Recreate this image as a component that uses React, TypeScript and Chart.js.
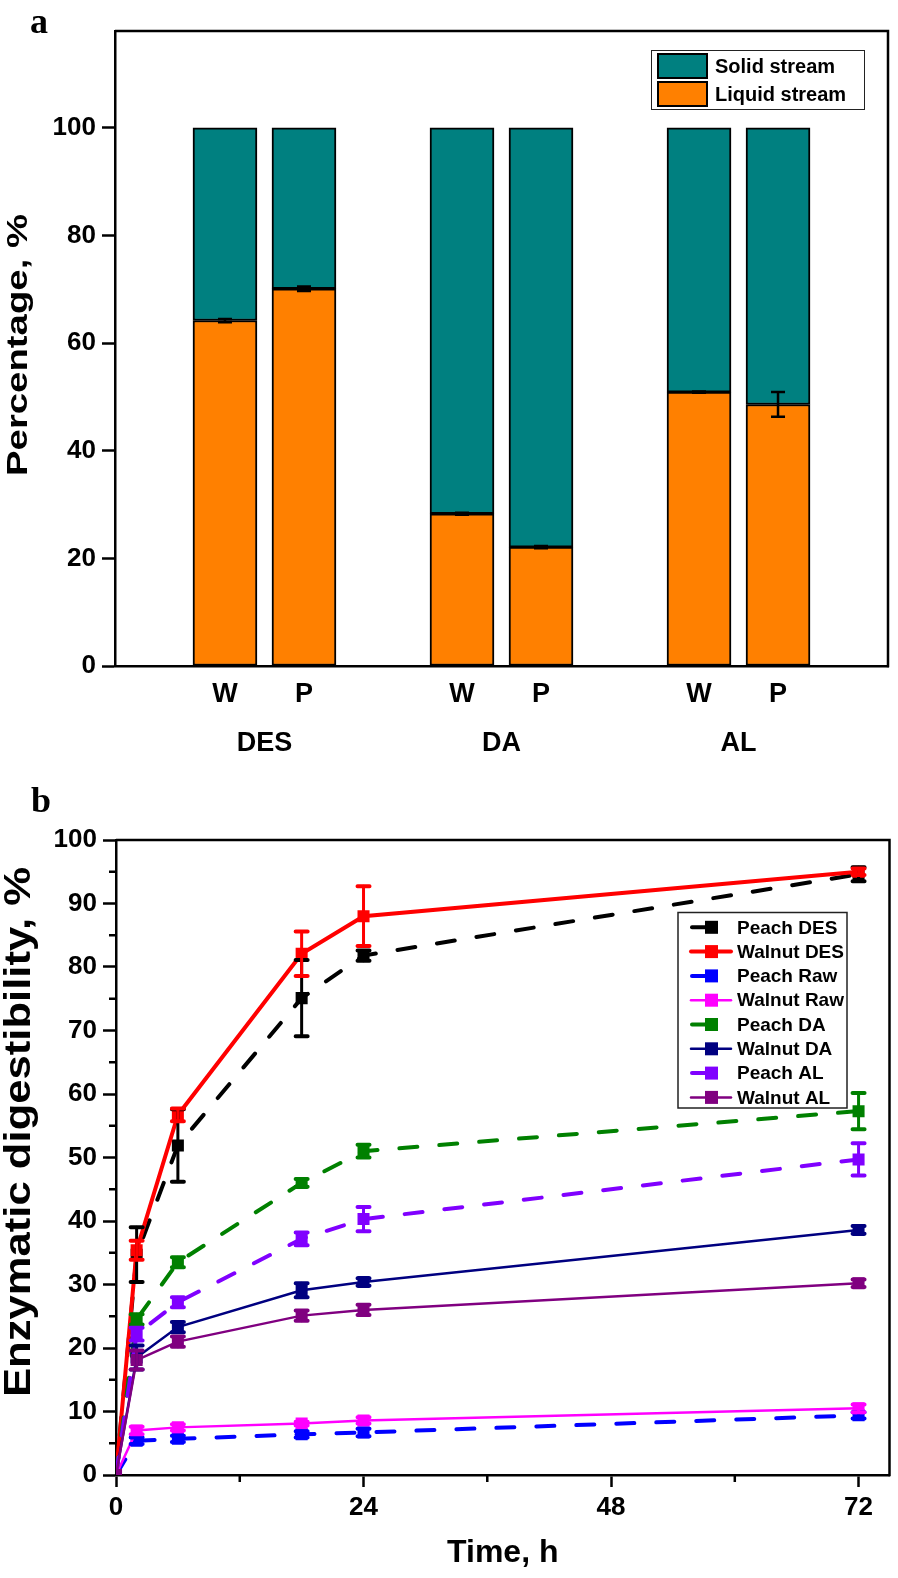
import React, { useEffect, useRef } from 'react';
import { Chart, registerables } from 'chart.js';

Chart.register(...registerables);

const SANS = "'Liberation Sans', Arial, Helvetica, sans-serif";
const SERIF = "'Liberation Serif', 'Times New Roman', serif";

// ---------------- Panel a data ----------------
const pretreatments = ['DES', 'DA', 'AL'];
const feedstocks = ['W', 'P'];
const liquidStream = [64.2, 70.1, 28.3, 22.1, 50.9, 48.6];
const solidStream = [35.8, 29.9, 71.7, 77.9, 49.1, 51.4];
const liquidError = [0.3, 0.4, 0.2, 0.2, 0.1, 2.3];
const percentTicks = [0, 20, 40, 60, 80, 100];

// ---------------- Panel b data ----------------
const hours = [0, 2, 6, 18, 24, 72];
const hourTicks = [0, 24, 48, 72];
const seriesNames = ['Peach DES', 'Walnut DES', 'Peach Raw', 'Walnut Raw', 'Peach DA', 'Walnut DA', 'Peach AL', 'Walnut AL'];
const peachDES = [0, 34.7, 51.9, 75.1, 81.8, 94.6];
const walnutDES = [0, 35.4, 56.7, 82.1, 88.0, 95.0];
const peachRaw = [0, 5.4, 5.7, 6.4, 6.7, 9.4];
const walnutRaw = [0, 7.0, 7.5, 8.1, 8.6, 10.5];
const peachDA = [0, 24.5, 33.5, 46.0, 51.0, 57.3];
const walnutDA = [0, 18.5, 23.3, 29.1, 30.4, 38.6];
const peachAL = [0, 22.2, 27.2, 37.2, 40.3, 49.7];
const walnutAL = [0, 18.1, 21.0, 25.1, 26.0, 30.2];
const peachDESErr = [0, 4.3, 5.7, 6.0, 0.8, 1.1];
const walnutDESErr = [0, 1.5, 1.0, 3.5, 4.7, 0.5];
const peachRawErr = [0, 0.5, 0.5, 0.5, 0.6, 0.5];
const walnutRawErr = [0, 0.6, 0.5, 0.3, 0.5, 0.6];
const peachDAErr = [0, 0.8, 0.8, 0.6, 1.0, 2.85];
const walnutDAErr = [0, 1.9, 0.8, 1.1, 0.6, 0.6];
const peachALErr = [0, 1.0, 0.8, 1.0, 1.9, 2.55];
const walnutALErr = [0, 1.5, 0.8, 0.8, 0.8, 0.6];

const seriesValues = [peachDES, walnutDES, peachRaw, walnutRaw, peachDA, walnutDA, peachAL, walnutAL];
const seriesErrors = [peachDESErr, walnutDESErr, peachRawErr, walnutRawErr, peachDAErr, walnutDAErr, peachALErr, walnutALErr];
const seriesColors = ['#000000', '#FF0000', '#0000FF', '#FF00FF', '#008000', '#000080', '#8000FF', '#800080'];
const seriesDashed = [true, false, true, false, true, false, true, false];
const seriesWidths = [4, 4, 4, 2.5, 4, 2.5, 4, 2.5];

const TEAL = '#008080';
const ORANGE = '#FF8000';

function slotOf(i: number) {
  const k = feedstocks.length;
  return Math.floor(i / k) * (k + 1) + (i % k) + 1;
}
function groupCenter(g: number) {
  const k = feedstocks.length;
  return g * (k + 1) + (k + 1) / 2;
}

function drawVerticalTitle(ctx: CanvasRenderingContext2D, text: string, cx: number, cy: number, px: number, length: number) {
  ctx.save();
  ctx.font = `bold ${px}px ${SANS}`;
  const w = ctx.measureText(text).width;
  ctx.translate(cx, cy);
  ctx.rotate(-Math.PI / 2);
  ctx.scale(length / w, 1);
  ctx.textAlign = 'center';
  ctx.textBaseline = 'middle';
  ctx.fillStyle = '#000';
  ctx.fillText(text, 0, 0);
  ctx.restore();
}

const framePlugin = {
  id: 'frame',
  afterDraw(chart: any) {
    const { ctx, chartArea: c } = chart;
    ctx.save();
    ctx.strokeStyle = '#000';
    ctx.lineWidth = 2.5;
    ctx.beginPath();
    ctx.moveTo(c.left, c.top);
    ctx.lineTo(c.right, c.top);
    ctx.lineTo(c.right, c.bottom + 1.25);
    ctx.stroke();
    ctx.restore();
  },
};

function makeChartA(canvas: HTMLCanvasElement) {
  const extras = {
    id: 'extrasA',
    afterDatasetsDraw(chart: any) {
      const { ctx } = chart;
      const xs = chart.scales.x;
      const ys = chart.scales.y;
      ctx.save();
      ctx.strokeStyle = '#000';
      ctx.lineWidth = 2.5;
      liquidStream.forEach((v, i) => {
        const e = liquidError[i];
        const x = xs.getPixelForValue(slotOf(i));
        const y1 = ys.getPixelForValue(v + e);
        const y2 = ys.getPixelForValue(v - e);
        ctx.beginPath();
        ctx.moveTo(x, y1);
        ctx.lineTo(x, y2);
        ctx.moveTo(x - 7, y1);
        ctx.lineTo(x + 7, y1);
        ctx.moveTo(x - 7, y2);
        ctx.lineTo(x + 7, y2);
        ctx.stroke();
      });
      ctx.restore();
    },
    afterDraw(chart: any) {
      const { ctx } = chart;
      ctx.save();
      // legend
      ctx.strokeStyle = '#222';
      ctx.lineWidth = 1;
      ctx.strokeRect(651.5, 50.5, 213, 59);
      const rows = [
        { label: 'Solid stream', color: TEAL, y: 66 },
        { label: 'Liquid stream', color: ORANGE, y: 94 },
      ];
      rows.forEach((r) => {
        ctx.fillStyle = r.color;
        ctx.fillRect(658, r.y - 12, 49, 24);
        ctx.strokeStyle = '#000';
        ctx.lineWidth = 2;
        ctx.strokeRect(658, r.y - 12, 49, 24);
        ctx.fillStyle = '#000';
        ctx.font = `bold 20px ${SANS}`;
        ctx.textAlign = 'left';
        ctx.textBaseline = 'middle';
        ctx.fillText(r.label, 715, r.y + 1);
      });
      // panel letter
      ctx.font = `bold 36px ${SERIF}`;
      ctx.textAlign = 'left';
      ctx.textBaseline = 'alphabetic';
      ctx.fillText('a', 30, 33);
      ctx.restore();
      drawVerticalTitle(ctx, 'Percentage, %', 19, 345, 29, 262);
    },
  };

  return new Chart(canvas, {
    type: 'bar',
    data: {
      datasets: [
        {
          label: 'Liquid stream',
          data: liquidStream.map((v, i) => ({ x: slotOf(i), y: v })),
          backgroundColor: ORANGE,
          borderColor: '#000',
          borderWidth: 2,
          borderSkipped: false,
          barThickness: 64,
        },
        {
          label: 'Solid stream',
          data: solidStream.map((v, i) => ({ x: slotOf(i), y: v })),
          backgroundColor: TEAL,
          borderColor: '#000',
          borderWidth: 2,
          borderSkipped: false,
          barThickness: 64,
        },
      ],
    },
    options: {
      animation: false,
      responsive: false,
      maintainAspectRatio: false,
      layout: { padding: { top: 31, right: 10, left: 0, bottom: 0 } },
      plugins: { legend: { display: false }, tooltip: { enabled: false } },
      scales: {
        x: {
          type: 'linear',
          position: 'bottom',
          min: -0.392,
          max: 9.392,
          offset: false,
          stacked: true,
          grid: { display: false, drawTicks: false, offset: false },
          border: { display: true, color: '#000', width: 2.5 },
          afterBuildTicks: (s: any) => {
            s.ticks = liquidStream.map((_, i) => ({ value: slotOf(i) }));
          },
          ticks: {
            autoSkip: false,
            maxRotation: 0,
            padding: 12,
            color: '#000',
            font: { family: SANS, size: 27, weight: 'bold' },
            callback: (_v: any, idx: number) => feedstocks[idx % feedstocks.length],
          },
          afterFit: (s: any) => {
            s.height = 50;
          },
        },
        x2: {
          type: 'linear',
          position: 'bottom',
          min: -0.392,
          max: 9.392,
          offset: false,
          grid: { display: false, drawTicks: false, offset: false },
          border: { display: false },
          afterBuildTicks: (s: any) => {
            s.ticks = pretreatments.map((_, g) => ({ value: groupCenter(g) }));
          },
          ticks: {
            autoSkip: false,
            maxRotation: 0,
            padding: 11,
            color: '#000',
            font: { family: SANS, size: 27, weight: 'bold' },
            callback: (_v: any, idx: number) => pretreatments[idx],
          },
          afterFit: (s: any) => {
            s.height = 64;
          },
        },
        y: {
          stacked: true,
          min: 0,
          max: 118,
          afterBuildTicks: (s: any) => {
            s.ticks = percentTicks.map((v) => ({ value: v }));
          },
          grid: { drawOnChartArea: false, drawTicks: true, tickLength: 13, tickWidth: 2.5, tickColor: '#000' },
          border: { display: true, color: '#000', width: 2.5 },
          ticks: {
            padding: 6,
            color: '#000',
            font: { family: SANS, size: 26, weight: 'bold' },
          },
          afterFit: (s: any) => {
            s.width = 115;
          },
        },
      },
    } as any,
    plugins: [extras, framePlugin],
  });
}

function makeChartB(canvas: HTMLCanvasElement) {
  const extras = {
    id: 'extrasB',
    afterDatasetsDraw(chart: any) {
      const { ctx } = chart;
      const xs = chart.scales.x;
      const ys = chart.scales.y;
      ctx.save();
      ctx.lineCap = 'round';
      seriesValues.forEach((vals, si) => {
        ctx.strokeStyle = seriesColors[si];
        vals.forEach((v, j) => {
          const e = seriesErrors[si][j];
          if (!e) return;
          const x = xs.getPixelForValue(hours[j]);
          const y1 = ys.getPixelForValue(v + e);
          const y2 = ys.getPixelForValue(v - e);
          ctx.lineWidth = 3;
          ctx.beginPath();
          ctx.moveTo(x, y1);
          ctx.lineTo(x, y2);
          ctx.stroke();
          ctx.lineWidth = 4;
          ctx.beginPath();
          ctx.moveTo(x - 6, y1);
          ctx.lineTo(x + 6, y1);
          ctx.moveTo(x - 6, y2);
          ctx.lineTo(x + 6, y2);
          ctx.stroke();
        });
      });
      ctx.restore();
    },
    afterDraw(chart: any) {
      const { ctx } = chart;
      const xs = chart.scales.x;
      const ys = chart.scales.y;
      const c = chart.chartArea;
      ctx.save();
      // minor ticks
      ctx.strokeStyle = '#000';
      ctx.lineWidth = 2.5;
      ctx.beginPath();
      for (let i = 0; i < ys.ticks.length - 1; i++) {
        const m = (ys.ticks[i].value + ys.ticks[i + 1].value) / 2;
        const y = ys.getPixelForValue(m);
        ctx.moveTo(c.left - 7, y);
        ctx.lineTo(c.left, y);
      }
      for (let i = 0; i < xs.ticks.length - 1; i++) {
        const m = (xs.ticks[i].value + xs.ticks[i + 1].value) / 2;
        const x = xs.getPixelForValue(m);
        ctx.moveTo(x, c.bottom);
        ctx.lineTo(x, c.bottom + 7);
      }
      ctx.stroke();

      // legend
      const boxL = 678, boxT = 132.5, boxW = 169, boxH = 195.5;
      ctx.fillStyle = '#fff';
      ctx.fillRect(boxL, boxT, boxW, boxH);
      ctx.strokeStyle = '#222';
      ctx.lineWidth = 1.5;
      ctx.strokeRect(boxL, boxT, boxW, boxH);
      seriesNames.forEach((name, i) => {
        const y = 147.3 + i * 24.3;
        ctx.save();
        ctx.strokeStyle = seriesColors[i];
        ctx.lineWidth = seriesWidths[i];
        ctx.lineCap = 'round';
        ctx.beginPath();
        if (seriesDashed[i]) {
          ctx.moveTo(692, y);
          ctx.lineTo(711, y);
        } else {
          ctx.moveTo(691, y);
          ctx.lineTo(731, y);
        }
        ctx.stroke();
        ctx.fillStyle = seriesColors[i];
        ctx.fillRect(705, y - 6.5, 13, 13);
        ctx.restore();
        ctx.fillStyle = '#000';
        ctx.font = `bold 19px ${SANS}`;
        ctx.textAlign = 'left';
        ctx.textBaseline = 'middle';
        ctx.fillText(name, 737, y + 1);
      });

      // x title
      ctx.fillStyle = '#000';
      ctx.font = `bold 32px ${SANS}`;
      ctx.textAlign = 'center';
      ctx.textBaseline = 'middle';
      ctx.fillText('Time, h', (c.left + c.right) / 2, 773);

      // panel letter
      ctx.font = `bold 36px ${SERIF}`;
      ctx.textAlign = 'left';
      ctx.textBaseline = 'alphabetic';
      ctx.fillText('b', 31, 32);
      ctx.restore();
      drawVerticalTitle(ctx, 'Enzymatic digestibility, %', 20, 352, 36, 530);
    },
  };

  return new Chart(canvas, {
    type: 'line',
    data: {
      datasets: seriesNames.map((name, i) => ({
        label: name,
        data: hours.map((h, j) => ({ x: h, y: seriesValues[i][j] })),
        borderColor: seriesColors[i],
        backgroundColor: seriesColors[i],
        borderWidth: seriesWidths[i],
        borderDash: seriesDashed[i] ? [18, 22] : [],
        borderCapStyle: 'round',
        tension: 0,
        fill: false,
        pointStyle: 'rect',
        pointRadius: 8.5,
        pointBorderWidth: 0,
        pointBackgroundColor: seriesColors[i],
        order: seriesNames.length - i,
      })),
    },
    options: {
      animation: false,
      responsive: false,
      maintainAspectRatio: false,
      layout: { padding: { top: 60, right: 1.5, left: 0, bottom: 0 } },
      plugins: { legend: { display: false }, tooltip: { enabled: false } },
      scales: {
        x: {
          type: 'linear',
          min: 0,
          max: 75,
          afterBuildTicks: (s: any) => {
            s.ticks = hourTicks.map((v) => ({ value: v }));
          },
          grid: { drawOnChartArea: false, drawTicks: true, tickLength: 12, tickWidth: 2.5, tickColor: '#000' },
          border: { display: true, color: '#000', width: 2.5 },
          ticks: {
            autoSkip: false,
            maxRotation: 0,
            padding: 5,
            color: '#000',
            font: { family: SANS, size: 26, weight: 'bold' },
          },
          afterFit: (s: any) => {
            s.height = 103;
          },
        },
        y: {
          type: 'linear',
          min: 0,
          max: 100,
          ticks: {
            stepSize: 10,
            padding: 6,
            color: '#000',
            font: { family: SANS, size: 26, weight: 'bold' },
          },
          grid: { drawOnChartArea: false, drawTicks: true, tickLength: 13, tickWidth: 2.5, tickColor: '#000' },
          border: { display: true, color: '#000', width: 2.5 },
          afterFit: (s: any) => {
            s.width = 116;
          },
        },
      },
    } as any,
    plugins: [extras, framePlugin],
  });
}

export default function App() {
  const refA = useRef<HTMLCanvasElement>(null);
  const refB = useRef<HTMLCanvasElement>(null);
  useEffect(() => {
    document.body.style.margin = '0';
    const a = makeChartA(refA.current as HTMLCanvasElement);
    const b = makeChartB(refB.current as HTMLCanvasElement);
    return () => {
      a.destroy();
      b.destroy();
    };
  }, []);
  return (
    <div style={{ position: 'relative', width: 898, height: 1578, background: '#fff', overflow: 'hidden' }}>
      <canvas ref={refA} width={898} height={780} style={{ position: 'absolute', left: 0, top: 0, width: 898, height: 780 }} />
      <canvas ref={refB} width={898} height={798} style={{ position: 'absolute', left: 0, top: 780, width: 898, height: 798 }} />
    </div>
  );
}
